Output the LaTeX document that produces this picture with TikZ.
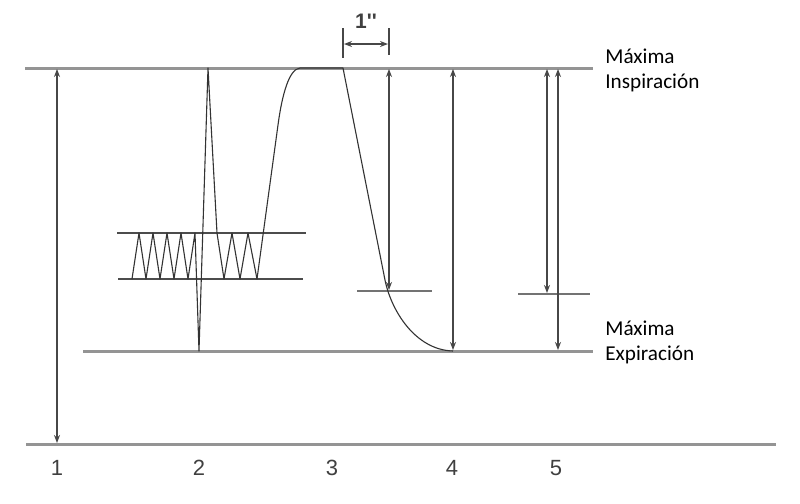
\documentclass[tikz,border=0pt]{standalone}
\usepackage{fontspec}
\setmainfont{Carlito}
\newfontfamily\numfont{Liberation Sans}
\usetikzlibrary{arrows.meta}
\begin{document}
\begin{tikzpicture}[x=0.5pt,y=-0.5pt,
  level/.style={draw=black!42,line width=1.5pt},
  band/.style={draw=black!70,line width=0.8pt},
  marklev/.style={draw=black!55,line width=0.8pt},
  arr/.style={draw=black!72,line width=0.7pt,{Stealth[length=4pt,width=3pt]}-{Stealth[length=4pt,width=3pt]}},
  trace/.style={draw=black!80,line width=0.55pt,line join=round},
  tick/.style={draw=black!72,line width=0.8pt},
  lbl/.style={font=\fontsize{10.6}{12}\selectfont,anchor=base west,inner sep=0pt},
  num/.style={font=\numfont\fontsize{11}{13}\selectfont,text=black!75,anchor=base,inner sep=0pt}]
\useasboundingbox (0,0) rectangle (800,504);
\fill[white] (0,0) rectangle (800,504);
% level lines
\coordinate (topL) at (25,68);   \coordinate (topR) at (593,68);
\coordinate (botL) at (83,351);  \coordinate (botR) at (593,351);
\coordinate (baseL) at (26,444); \coordinate (baseR) at (776,444);
\draw[level] (topL) -- (topR);
\draw[level] (botL) -- (botR);
\draw[level] (baseL) -- (baseR);
% tidal band
\coordinate (b1L) at (117,233); \coordinate (b1R) at (306,233);
\coordinate (b2L) at (118,279); \coordinate (b2R) at (303,279);
\draw[band] (b1L) -- (b1R);
\draw[band] (b2L) -- (b2R);
% short level marks
\coordinate (m3L) at (357,291); \coordinate (m3R) at (432,291);
\coordinate (m5L) at (518,294); \coordinate (m5R) at (590,294);
\draw[marklev] (m3L) -- (m3R);
\draw[marklev] (m5L) -- (m5R);
% spirogram trace
\draw[trace] (132,279) -- (139,233) -- (146,279) -- (153,233) -- (160,279) -- (167,233)
  -- (174,279) -- (181,233) -- (188,279) -- (195,233) -- (199,351) -- (208,68)
  -- (217,233) -- (224,279) -- (232,233) -- (240,279) -- (248,233) -- (257,279)
  -- (278,125) .. controls (282,95) and (289,69) .. (300,68) -- (343,68)
  -- (385,280) .. controls (391,310) and (415,350) .. (453,351);
% arrows
\coordinate (a1t) at (57,69);  \coordinate (a1b) at (57,443);
\coordinate (a3t) at (389,69); \coordinate (a3b) at (389,290);
\coordinate (a4t) at (453,69); \coordinate (a4b) at (453,350);
\coordinate (a5t) at (547,69); \coordinate (a5b) at (547,293);
\coordinate (a6t) at (558,69); \coordinate (a6b) at (558,350);
\draw[arr] (a1t) -- (a1b);
\draw[arr] (a3t) -- (a3b);
\draw[arr] (a4t) -- (a4b);
\draw[arr] (a5t) -- (a5b);
\draw[arr] (a6t) -- (a6b);
% one second marker
\coordinate (k1t) at (343,28); \coordinate (k1b) at (343,58);
\coordinate (k2t) at (389,28); \coordinate (k2b) at (389,55);
\coordinate (s1) at (344,44); \coordinate (s2) at (388,44);
\draw[tick] (k1t) -- (k1b);
\draw[tick] (k2t) -- (k2b);
\draw[arr] (s1) -- (s2);
\node[num,font=\numfont\fontsize{10.5}{12}\selectfont\bfseries] (sec) at (366,28) {1\char39\char39};
% labels
\node[lbl] (mi1) at (605,63) {Máxima};
\node[lbl] (mi2) at (605,88) {Inspiración};
\node[lbl] (me1) at (605,335) {Máxima};
\node[lbl] (me2) at (605,360) {Expiración};
% numbers
\node[num] (n1) at (57,475) {1};
\node[num] (n2) at (199,475) {2};
\node[num] (n3) at (332,475) {3};
\node[num] (n4) at (452,475) {4};
\node[num] (n5) at (556,475) {5};
\end{tikzpicture}
\end{document}
